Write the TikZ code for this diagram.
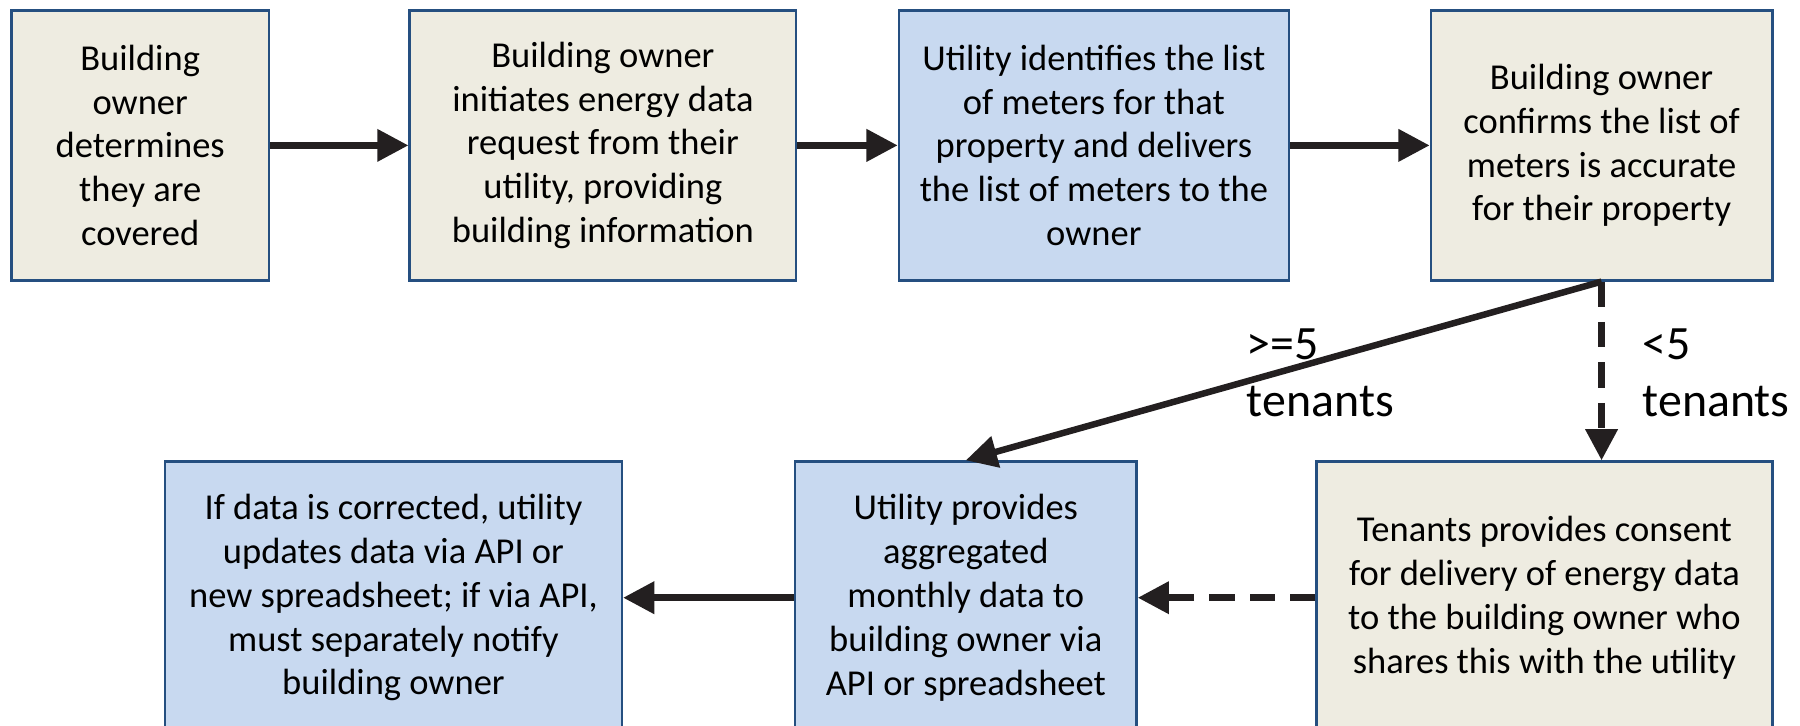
\documentclass[tikz,border=0pt]{standalone}
\usepackage{fontspec}
\setmainfont{Carlito}
\usetikzlibrary{positioning, arrows.meta}

\definecolor{boxline}{RGB}{37,79,128}
\definecolor{beige}{RGB}{238,236,225}
\definecolor{lightblue}{RGB}{200,217,240}
\definecolor{arrowc}{RGB}{35,31,32}

\begin{document}
\begin{tikzpicture}[
    font=\fontsize{9}{10.8}\selectfont,
    box/.style={rectangle, draw=boxline, line width=0.6pt, minimum height=2.34cm,
                align=center, inner sep=2pt},
    owner/.style={fill=beige},
    utility/.style={fill=lightblue},
    arrow/.style={-{Triangle[length=0.27cm, width=0.27cm]}, line width=1.6pt, draw=arrowc},
    dasharrow/.style={arrow, dash pattern=on 0.22cm off 0.13cm},
    tenantlabel/.style={font=\fontsize{11.8}{14.2}\selectfont, align=left, anchor=west, inner sep=0pt}
]

\useasboundingbox (0,0) rectangle (15.6,-6.29);
\clip (0,0) rectangle (15.6,-6.29);

% --- Fila superior ---
\node[box, owner, minimum width=2.23cm] (covered) at (1.215,-1.26)
    {Building\\owner\\determines\\they are\\covered};
\node[box, owner, minimum width=3.35cm] (request) at (5.225,-1.26)
    {Building owner\\initiates energy data\\request from their\\utility, providing\\building information};
\node[box, utility, minimum width=3.38cm] (meters) at (9.48,-1.26)
    {Utility identifies the list\\of meters for that\\property and delivers\\the list of meters to the\\owner};
\node[box, owner, minimum width=2.96cm] (confirm) at (13.88,-1.26)
    {Building owner\\confirms the list of\\meters is accurate\\for their property};

% --- Fila inferior ---
\node[box, owner, minimum width=3.95cm, minimum height=2.36cm] (consent) at (13.385,-5.18)
    {Tenants provides consent\\for delivery of energy data\\to the building owner who\\shares this with the utility};
\node[box, utility, minimum width=2.96cm, minimum height=2.36cm] (monthly) at (8.37,-5.18)
    {Utility provides\\aggregated\\monthly data to\\building owner via\\API or spreadsheet};
\node[box, utility, minimum width=3.96cm, minimum height=2.36cm] (corrected) at (3.41,-5.18)
    {If data is corrected, utility\\updates data via API or\\new spreadsheet; if via API,\\must separately notify\\building owner};

% --- Flechas ---
\draw[arrow] (covered) -- (request);
\draw[arrow] (request) -- (meters);
\draw[arrow] (meters) -- (confirm);

\draw[arrow] (confirm.south) -- (monthly.north);
\draw[dasharrow] (confirm.south) -- (confirm.south |- consent.north);

\draw[dasharrow] (consent) -- (monthly);
\draw[arrow] (monthly) -- (corrected);

% --- Etiquetas ---
\node[tenantlabel] (many) at (10.8,-3.23) {>=5\\tenants};
\node[tenantlabel] (few) at (14.23,-3.23) {<5\\tenants};

\end{tikzpicture}
\end{document}
